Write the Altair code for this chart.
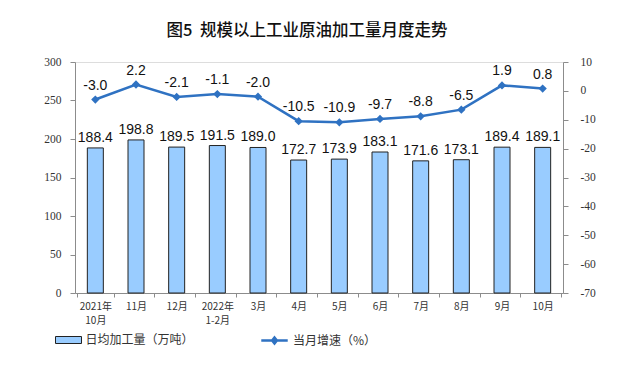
import altair as alt
import pandas as pd

months = ["2021年|10月", "11月", "12月", "2022年|1-2月", "3月", "4月", "5月", "6月", "7月", "8月", "9月", "10月"]
output = [188.4, 198.8, 189.5, 191.5, 189.0, 172.7, 173.9, 183.1, 171.6, 173.1, 189.4, 189.1]
growth = [-3.0, 2.2, -2.1, -1.1, -2.0, -10.5, -10.9, -9.7, -8.8, -6.5, 1.9, 0.8]
left_ticks = [0, 50, 100, 150, 200, 250, 300]
right_ticks = [10, 0, -10, -20, -30, -40, -50, -60, -70]

df = pd.DataFrame({
    "month": months,
    "output": output,
    "growth": growth,
    "output_label": [f"{v:.1f}" for v in output],
    "growth_label": [f"{v:.1f}" for v in growth],
    "bar_series": ["日均加工量（万吨）"] * len(months),
    "line_series": ["当月增速（%）"] * len(months),
})

BAR = "#99CCFF"
LINE = "#2F72C2"
AXC = "#8c8c8c"
NUMFONT = "Liberation Serif"
CJK = "Noto Sans CJK SC"

x_axis = alt.Axis(labelExpr="split(datum.label, '|')", labelAngle=0,
                  labelFont=CJK, labelFontSize=10, labelColor="#333",
                  domainColor=AXC, tickColor=AXC, tickBand="extent",
                  tickSize=4, labelPadding=4, labelLineHeight=14)
yl_axis = alt.Axis(values=left_ticks, tickCount=7, grid=False,
                   labelOverlap=False, labelFlush=False,
                   labelFont=NUMFONT, labelFontSize=11.5, labelColor="#333",
                   domainColor=AXC, tickColor=AXC, tickSize=5, labelPadding=9)
yr_axis = alt.Axis(orient="right", values=right_ticks, tickCount=9, grid=False,
                   labelOverlap=False, labelFlush=False,
                   labelExpr="replace(datum.label, '−', '-')",
                   labelFont=NUMFONT, labelFontSize=11.5, labelColor="#333",
                   domainColor=AXC, tickColor=AXC, tickSize=5, labelPadding=12)

x = alt.X("month:N", sort=months, title=None, axis=x_axis)
yl = alt.Y("output:Q", scale=alt.Scale(domain=[0, 300], nice=False), title=None, axis=yl_axis)
yr = alt.Y("growth:Q", scale=alt.Scale(domain=[-70, 10], nice=False), title=None, axis=yr_axis)

bars = alt.Chart(df).mark_bar(size=16, stroke="#222", strokeWidth=1).encode(
    x=x, y=yl,
    fill=alt.Fill("bar_series:N", scale=alt.Scale(range=[BAR]), title=None,
                  legend=alt.Legend(orient="none", legendX=-12.5, legendY=272,
                                    symbolType="M-2.6,-0.7H2.6V0.7H-2.6Z", symbolSize=100,
                                    symbolStrokeColor="#222", symbolStrokeWidth=1,
                                    labelFont=CJK, labelFontSize=12, labelColor="#333",
                                    labelOffset=11)),
)

bar_text = alt.Chart(df).mark_text(dy=-10, font="Liberation Sans", fontSize=14, color="#111").encode(
    x=x, y=yl, text="output_label:N",
)

left = alt.layer(bars, bar_text)

line = alt.Chart(df).mark_line(strokeWidth=2.5, point=alt.OverlayMarkDef(shape="diamond", size=30, filled=True, color=LINE)).encode(
    x=x, y=yr,
    stroke=alt.Stroke("line_series:N", scale=alt.Scale(range=[LINE]), title=None,
                      legend=alt.Legend(orient="none", legendX=185, legendY=264,
                                        symbolType="M-1,0H1M0,-0.22L0.18,0L0,0.22L-0.18,0Z",
                                        symbolSize=700, symbolStrokeWidth=2.5,
                                        symbolFillColor=LINE,
                                        labelFont=CJK, labelFontSize=12, labelColor="#333",
                                        labelOffset=4)),
)

line_text = alt.Chart(df).mark_text(dy=-14, font="Liberation Sans", fontSize=14, color="#111").encode(
    x=x, y=yr, text="growth_label:N",
)

right = alt.layer(line, line_text)

chart = alt.layer(left, right).resolve_scale(y="independent", fill="independent", stroke="independent").properties(
    width=488, height=231,
    autosize=alt.AutoSizeParams(type="none"),
    padding={"left": 67, "top": 54, "right": 72, "bottom": 72},
    title=alt.Title("图5\u00a0\u00a0规模以上工业原油加工量月度走势", font=CJK, fontSize=16.5, fontWeight=500,
                    color="#111", anchor="middle", offset=17, dx=-12),
).configure_view(stroke=None, strokeWidth=0).configure(background="white")

chart.save("out.html", embed_options={"renderer": "svg", "actions": False})
